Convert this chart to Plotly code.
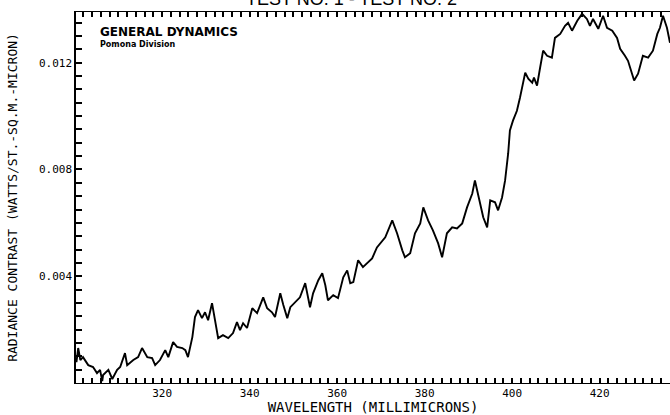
import numpy as np
import plotly.graph_objects as go

# Spectral radiance contrast, General Dynamics / Pomona Division test record
wavelength_nm = [
    300.4, 300.8, 301.3, 301.9, 303.1, 304.2, 305.1, 305.8, 306.3, 306.5,
    307.7, 308.6, 309.7, 310.4, 311.5, 312.0, 313.4, 314.5, 315.4, 316.6,
    317.7, 318.4, 319.5, 320.7, 321.4, 322.5, 323.4, 324.6, 325.3, 325.9,
    326.9, 327.5, 328.2, 329.1, 329.8, 330.5, 331.4, 332.1, 332.8, 333.9,
    335.1, 336.2, 337.1, 337.8, 338.5, 339.4, 340.6, 341.7, 343.1, 344.0,
    345.1, 345.8, 347.0, 347.7, 348.6, 349.3, 350.4, 351.5, 352.7, 353.8,
    354.5, 355.7, 356.6, 357.3, 357.9, 359.1, 360.2, 361.4, 362.3, 363.0,
    363.7, 364.8, 365.9, 366.9, 368.0, 369.1, 371.0, 372.6, 373.7, 374.9,
    375.5, 376.7, 377.8, 379.0, 379.7, 380.8, 381.9, 383.1, 384.0, 385.1,
    386.3, 387.4, 388.6, 389.7, 390.9, 391.5, 392.2, 393.4, 394.3, 395.0,
    396.1, 396.8, 397.7, 398.4, 399.1, 399.5, 400.2, 401.1, 401.8, 402.5,
    403.0, 403.7, 404.6, 405.0, 405.7, 406.4, 407.1, 408.0, 409.1, 409.8,
    411.0, 412.1, 412.8, 413.7, 414.9, 416.0, 417.1, 417.8, 418.5, 419.7,
    420.8, 421.7, 422.9, 424.0, 424.7, 425.8, 426.5, 427.9, 428.8, 429.9,
    431.1, 432.2, 433.2, 433.8, 434.5, 435.4, 436.1,
]
radiance = [
    0.00078, 0.00131, 0.00086, 0.00097, 0.00067, 0.00060, 0.00037, 0.00049, 0.00007, 0.00030,
    0.00049, 0.00015, 0.00049, 0.00060, 0.00112, 0.00067, 0.00086, 0.00097, 0.00131, 0.00097,
    0.00093, 0.00067, 0.00086, 0.00123, 0.00097, 0.00153, 0.00135, 0.00131, 0.00123, 0.00097,
    0.00172, 0.00247, 0.00273, 0.00243, 0.00265, 0.00235, 0.00299, 0.00228, 0.00168, 0.00179,
    0.00168, 0.00187, 0.00228, 0.00198, 0.00224, 0.00206, 0.00280, 0.00262, 0.00321, 0.00280,
    0.00265, 0.00247, 0.00336, 0.00292, 0.00243, 0.00284, 0.00303, 0.00321, 0.00374, 0.00284,
    0.00336, 0.00385, 0.00411, 0.00366, 0.00310, 0.00329, 0.00318, 0.00396, 0.00422, 0.00374,
    0.00378, 0.00460, 0.00434, 0.00449, 0.00467, 0.00508, 0.00546, 0.00609, 0.00561, 0.00497,
    0.00471, 0.00486, 0.00561, 0.00598, 0.00658, 0.00609, 0.00572, 0.00523, 0.00471, 0.00561,
    0.00583, 0.00579, 0.00598, 0.00658, 0.00710, 0.00759, 0.00710, 0.00621, 0.00583, 0.00684,
    0.00677, 0.00647, 0.00695, 0.00759, 0.00860, 0.00946, 0.00983, 0.01020, 0.01069, 0.01121,
    0.01163, 0.01140, 0.01125, 0.01144, 0.01114, 0.01181, 0.01245, 0.01226, 0.01219, 0.01293,
    0.01308, 0.01338, 0.01349, 0.01320, 0.01357, 0.01383, 0.01364, 0.01338, 0.01364, 0.01327,
    0.01376, 0.01331, 0.01320, 0.01293, 0.01252, 0.01226, 0.01207, 0.01133, 0.01159, 0.01226,
    0.01219, 0.01245, 0.01308, 0.01331, 0.01376, 0.01331, 0.01275,
]

x_range = [300.3, 436.1]
y_range = [0, 0.0139]
x_labelled = [300, 320, 340, 360, 380, 400, 420]
y_labelled = [0.004, 0.008, 0.012]

# Tick marks every 2 nm and every 0.0005; only the round values carry a label
x_ticks = [float(v) for v in np.arange(300, 438, 2)]
x_text = [str(int(v)) if int(v) in x_labelled else "" for v in x_ticks]
y_ticks = [round(float(v), 4) for v in np.arange(0, 0.0140, 0.0005)]
y_text = [f"{v:.3f}" if any(abs(v - m) < 1e-9 for m in y_labelled) else "" for v in y_ticks]

MONO = "DejaVu Sans Mono"
SANS = "Liberation Sans"

fig = go.Figure()
fig.add_trace(go.Scatter(
    x=wavelength_nm, y=radiance, mode="lines",
    line=dict(color="black", width=1.9),
    hoverinfo="skip", showlegend=False,
))

fig.update_layout(
    width=670, height=415,
    margin=dict(l=76, r=0, t=12, b=32),
    paper_bgcolor="white", plot_bgcolor="white",
    font=dict(family=MONO, color="black"),
)

fig.update_xaxes(
    range=x_range,
    tickmode="array", tickvals=x_ticks, ticktext=x_text,
    ticks="inside", ticklen=5, tickwidth=1.5, tickcolor="black",
    showline=True, linecolor="black", linewidth=1, mirror="ticks",
    showgrid=False, zeroline=False,
    tickfont=dict(family=MONO, size=11, color="black"),
    title=dict(text="WAVELENGTH (MILLIMICRONS)", standoff=2,
               font=dict(family=MONO, size=14, color="black")),
)

fig.update_yaxes(
    range=y_range,
    tickmode="array", tickvals=y_ticks, ticktext=y_text,
    ticks="inside", ticklen=6, tickwidth=1.5, tickcolor="black",
    showline=True, linecolor="black", linewidth=1.5, mirror=False,
    showgrid=False, zeroline=False,
    tickfont=dict(family=MONO, size=11, color="black"),
    title=dict(text="RADIANCE CONTRAST (WATTS/ST.-SQ.M.-MICRON)", standoff=18,
               font=dict(family=MONO, size=13, color="black")),
)

# Page heading, running off the top edge of the sheet
fig.add_annotation(
    text="TEST NO. 1 - TEST NO. 2", xref="paper", yref="paper",
    x=0.463, y=1, yanchor="middle", yshift=13, showarrow=False,
    font=dict(family=SANS, size=18, color="black"),
)

# Company block in the upper-left corner of the plot
fig.add_annotation(
    text="<b>GENERAL DYNAMICS</b>", xref="paper", yref="paper",
    x=0.037, y=1, xanchor="left", yanchor="middle", yshift=-20, showarrow=False,
    font=dict(family="DejaVu Sans", size=12, color="black"),
)
fig.add_annotation(
    text="<b>Pomona Division</b>", xref="paper", yref="paper",
    x=0.037, y=1, xanchor="left", yanchor="middle", yshift=-32, showarrow=False,
    font=dict(family="DejaVu Sans", size=8, color="black"),
)

fig.write_html("out.html")
